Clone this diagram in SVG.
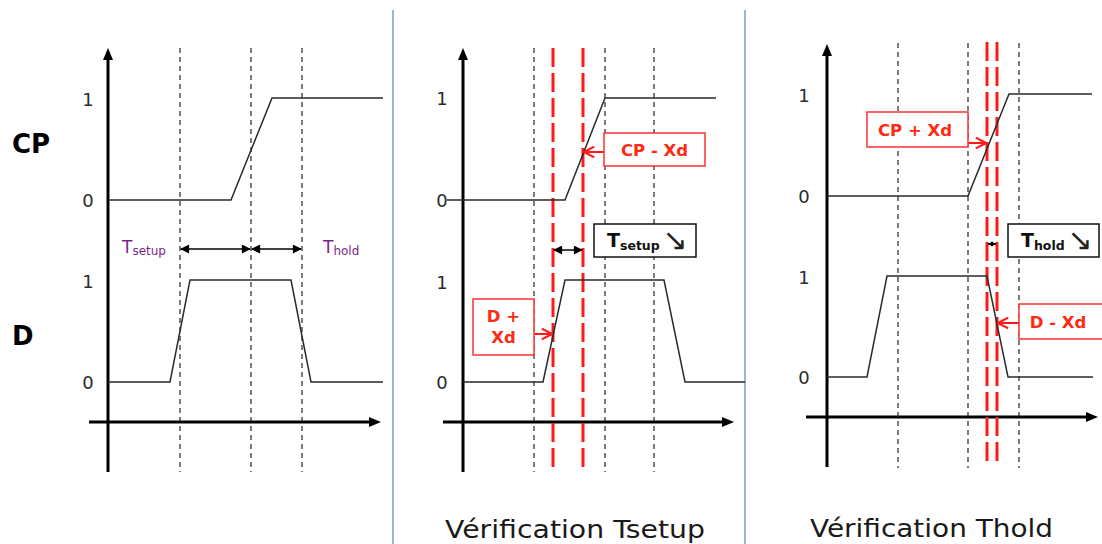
<svg xmlns="http://www.w3.org/2000/svg" width="1102" height="544" viewBox="0 0 1102 544">
<defs>
<style>
.axis{stroke:#000;stroke-width:3;fill:none}
.sig{stroke:#2a2a2a;stroke-width:1.5;fill:none;stroke-linejoin:miter}
.dash{stroke:#111;stroke-width:1.1;stroke-dasharray:5 4;fill:none}
.rdash{stroke:#ff1a1a;stroke-width:3;stroke-dasharray:19 6;fill:none}
.sep{stroke:#7b9bd4;stroke-width:1.5}
.lvl{font-family:"DejaVu Sans",Verdana,sans-serif;font-size:18px;fill:#2b2b2b;text-anchor:middle}
.big{font-family:"DejaVu Sans",Verdana,sans-serif;font-size:26px;font-weight:bold;fill:#000}
.dbl{stroke:#000;stroke-width:1.5;fill:none}
.rbox{fill:#fff;stroke:#ff3030;stroke-width:1.5}
.rtxt{font-family:"DejaVu Sans",Verdana,sans-serif;font-size:16.5px;font-weight:bold;fill:#ff2a10;text-anchor:middle}
.rarr{stroke:#ff1a1a;stroke-width:2;fill:none}
.kbox{fill:#fff;stroke:#111;stroke-width:1.5}
.ktxt{font-family:"DejaVu Sans",Verdana,sans-serif;font-weight:bold;fill:#111}
.ptxt{font-family:"DejaVu Sans",Verdana,sans-serif;fill:#7a1f8c}
.title{font-family:"DejaVu Sans",Verdana,sans-serif;font-size:25px;fill:#1a1a1a}
.glyph{font-family:"DejaVu Sans",sans-serif;font-size:30px;fill:#222;text-anchor:middle}
</style>
<marker id="axh" viewBox="0 0 12 12" refX="4" refY="6" markerWidth="12" markerHeight="12" markerUnits="userSpaceOnUse" orient="auto-start-reverse">
<path d="M0,1 L12,6 L0,11 z" fill="#000"/>
</marker>
<marker id="tri" viewBox="0 0 10 10" refX="9" refY="5" markerWidth="10" markerHeight="9" markerUnits="userSpaceOnUse" orient="auto-start-reverse">
<path d="M0,0 L10,5 L0,10 z" fill="#000"/>
</marker>
<marker id="tri2" viewBox="0 0 10 10" refX="10" refY="5" markerWidth="5" markerHeight="7" markerUnits="userSpaceOnUse" orient="auto-start-reverse">
<path d="M0,0 L10,5 L0,10 z" fill="#000"/>
</marker>
<marker id="chev" viewBox="0 0 10 10" refX="9.5" refY="5" markerWidth="12" markerHeight="13" markerUnits="userSpaceOnUse" orient="auto">
<path d="M1,0.5 L9.5,5 L1,9.5" fill="none" stroke="#ff1a1a" stroke-width="1.8"/>
</marker>
</defs>
<rect width="1102" height="544" fill="#fff"/>

<g id="separators">
<line class="sep" x1="393" y1="10" x2="393" y2="544"/>
<line class="sep" x1="745" y1="10" x2="745" y2="544"/>
</g>

<g id="row-labels">
<text class="big" x="12" y="153">CP</text>
<text class="big" x="12" y="345">D</text>
</g>

<!-- Panel 1 -->
<g id="panel1">
<g id="p1-axes">
<line class="axis" x1="108" y1="472" x2="108" y2="56" marker-end="url(#axh)"/>
<line class="axis" x1="89" y1="422" x2="373" y2="422" marker-end="url(#axh)"/>
</g>
<g id="p1-grid">
<line class="dash" x1="180" y1="48" x2="180" y2="472"/>
<line class="dash" x1="251" y1="48" x2="251" y2="472"/>
<line class="dash" x1="302" y1="48" x2="302" y2="472"/>
</g>
<g id="p1-levels">
<text class="lvl" x="88" y="106">1</text>
<text class="lvl" x="88" y="207">0</text>
<text class="lvl" x="88" y="288">1</text>
<text class="lvl" x="88" y="389">0</text>
</g>
<g id="p1-signals">
<polyline class="sig" points="108,200 231,200 272,98 383,98"/>
<polyline class="sig" points="108,382 170,382 190,280 291,280 311,382 383,382"/>
</g>
<g id="p1-connectors">
<line class="dbl" x1="181" y1="249" x2="250" y2="249" marker-start="url(#tri)" marker-end="url(#tri)"/>
<line class="dbl" x1="252" y1="249" x2="301" y2="249" marker-start="url(#tri)" marker-end="url(#tri)"/>
</g>
<g id="p1-tsetup">
<text class="ptxt" x="122" y="253" font-size="17">T<tspan font-size="12" dy="2">setup</tspan></text>
</g>
<g id="p1-thold">
<text class="ptxt" x="323" y="253" font-size="17">T<tspan font-size="12" dy="2">hold</tspan></text>
</g>
</g>

<!-- Panel 2 -->
<g id="panel2">
<g id="p2-axes">
<line class="axis" x1="463" y1="472" x2="463" y2="56" marker-end="url(#axh)"/>
<line class="axis" x1="443" y1="422" x2="726" y2="422" marker-end="url(#axh)"/>
</g>
<g id="p2-grid">
<line class="dash" x1="534" y1="48" x2="534" y2="472"/>
<line class="dash" x1="605" y1="48" x2="605" y2="472"/>
<line class="dash" x1="654" y1="48" x2="654" y2="472"/>
<line class="rdash" x1="553" y1="48" x2="553" y2="472"/>
<line class="rdash" x1="583" y1="48" x2="583" y2="472"/>
</g>
<g id="p2-levels">
<text class="lvl" x="442" y="105">1</text>
<text class="lvl" x="442" y="207">0</text>
<text class="lvl" x="442" y="289">1</text>
<text class="lvl" x="442" y="389">0</text>
</g>
<g id="p2-signals">
<polyline class="sig" points="447,200 565,200 605,98 716,98"/>
<polyline class="sig" points="463,382 543,382 565,280 664,280 685,382 745,382"/>
</g>
<g id="p2-connectors">
<line class="dbl" x1="554" y1="250" x2="582" y2="250" marker-start="url(#tri)" marker-end="url(#tri)"/>
<line class="rarr" x1="604" y1="152" x2="584" y2="152" marker-end="url(#chev)"/>
<line class="rarr" x1="534" y1="334" x2="552" y2="334" marker-end="url(#chev)"/>
</g>
<g id="p2-cpxd">
<rect class="rbox" x="604" y="133" width="101" height="33"/>
<text class="rtxt" x="654.5" y="156">CP - Xd</text>
</g>
<g id="p2-dxd">
<rect class="rbox" x="473" y="299" width="61" height="56"/>
<text class="rtxt" x="503.5" y="322">D +</text>
<text class="rtxt" x="503.5" y="343">Xd</text>
</g>
<g id="p2-tsetup">
<rect class="kbox" x="594" y="224" width="102" height="33"/>
<text class="ktxt" x="607" y="247" font-size="19">T<tspan font-size="12.5" dy="3">setup</tspan></text>
<text class="glyph" x="675" y="250">↘</text>
</g>
<text class="title" x="445" y="538" textLength="260" lengthAdjust="spacingAndGlyphs">Vérification Tsetup</text>
</g>

<!-- Panel 3 -->
<g id="panel3">
<g id="p3-axes">
<line class="axis" x1="827" y1="467" x2="827" y2="52" marker-end="url(#axh)"/>
<line class="axis" x1="806" y1="417" x2="1090" y2="417" marker-end="url(#axh)"/>
</g>
<g id="p3-grid">
<line class="dash" x1="898" y1="43" x2="898" y2="468"/>
<line class="dash" x1="968" y1="43" x2="968" y2="468"/>
<line class="dash" x1="1019" y1="43" x2="1019" y2="468"/>
<line class="rdash" x1="987" y1="42" x2="987" y2="464"/>
<line class="rdash" x1="997" y1="42" x2="997" y2="464"/>
</g>
<g id="p3-levels">
<text class="lvl" x="804" y="102">1</text>
<text class="lvl" x="804" y="203">0</text>
<text class="lvl" x="804" y="284">1</text>
<text class="lvl" x="804" y="384">0</text>
</g>
<g id="p3-signals">
<polyline class="sig" points="827,196 968,196 1009,94 1092,94"/>
<polyline class="sig" points="827,377 867,377 887,276 987,276 1008,377 1093,377"/>
</g>
<g id="p3-connectors">
<line class="dbl" x1="988" y1="244" x2="996" y2="244" marker-start="url(#tri2)" marker-end="url(#tri2)"/>
<line class="rarr" x1="968" y1="143" x2="986" y2="143" marker-end="url(#chev)"/>
<line class="rarr" x1="1019" y1="323" x2="998" y2="323" marker-end="url(#chev)"/>
</g>
<g id="p3-cpxd">
<rect class="rbox" x="867" y="112" width="101" height="35"/>
<text class="rtxt" x="915" y="136">CP + Xd</text>
</g>
<g id="p3-dxd">
<rect class="rbox" x="1019" y="304" width="84" height="35"/>
<text class="rtxt" x="1058" y="328">D - Xd</text>
</g>
<g id="p3-thold">
<rect class="kbox" x="1008" y="224" width="91" height="33"/>
<text class="ktxt" x="1021" y="247" font-size="19">T<tspan font-size="12.5" dy="3">hold</tspan></text>
<text class="glyph" x="1080" y="250">↘</text>
</g>
<text class="title" x="810" y="537" textLength="243" lengthAdjust="spacingAndGlyphs">Vérification Thold</text>
</g>
</svg>
